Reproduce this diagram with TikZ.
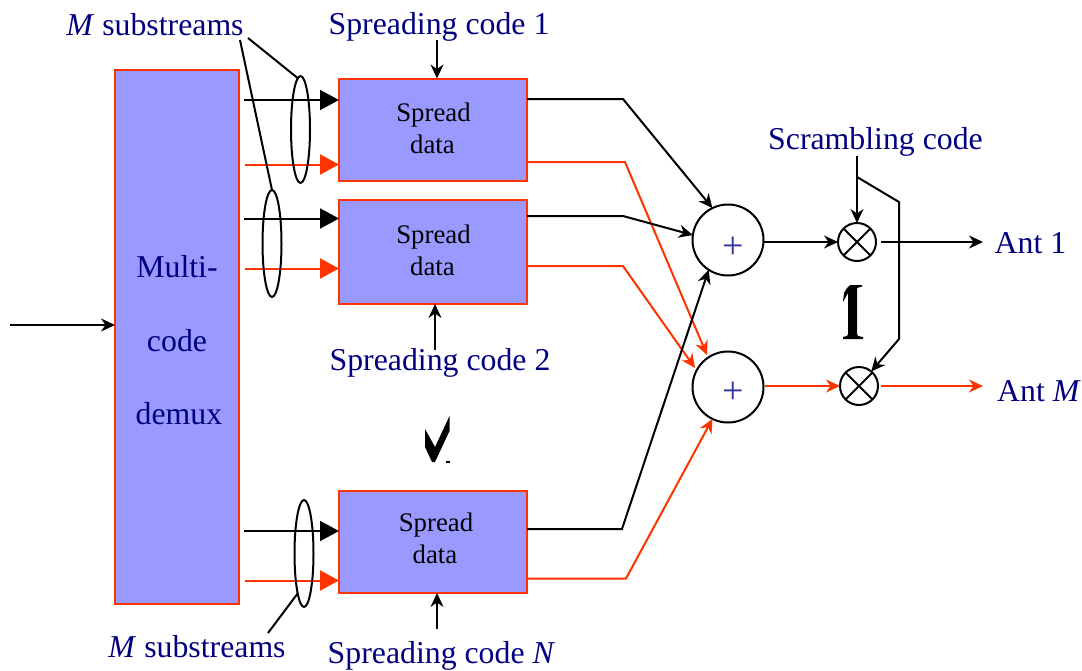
\documentclass[tikz,border=0pt]{standalone}
\usepackage{fontspec}
\setmainfont{Liberation Serif}
\usetikzlibrary{arrows.meta,shapes.geometric}
\definecolor{boxfill}{HTML}{9999FF}
\definecolor{oran}{HTML}{FF3300}
\definecolor{lab}{HTML}{000080}
\definecolor{plusc}{HTML}{333399}
\tikzset{
  x=1pt,y=-1pt,
  wire/.style={line width=2pt,line cap=butt,line join=miter},
  blk/.style={wire,draw=black},
  org/.style={wire,draw=oran},
  tip/.style={-{Stealth[length=14pt,width=13pt,inset=4.5pt]}},
  bigtip/.style={-{Triangle[length=19pt,width=20pt]}},
  blockbox/.style={draw=oran,fill=boxfill,line width=2pt,outer sep=0pt,inner sep=0pt},
  lbl/.style={text=lab,font=\fontsize{31.8pt}{32pt}\selectfont,anchor=base,inner sep=0pt},
  sprtxt/.style={text=black,font=\fontsize{26.8pt}{27pt}\selectfont,anchor=base,inner sep=0pt},
  oval/.style={draw=black,line width=2pt,ellipse,inner sep=0pt,outer sep=0pt,minimum width=19pt,minimum height=107pt},
  sumc/.style={circle,draw=black,line width=2pt,fill=white,inner sep=0pt,outer sep=0pt,minimum size=71pt},
  mulc/.style={circle,draw=black,line width=2pt,fill=white,inner sep=0pt,outer sep=0pt,minimum size=38pt},
  plustxt/.style={text=plusc,font=\fontsize{38pt}{38pt}\selectfont,inner sep=0pt,anchor=base},
}
\begin{document}
\begin{tikzpicture}
\useasboundingbox (0,0) rectangle (1082,670);
\fill[white] (0,0) rectangle (1082,670);
% blocks
\node[blockbox,minimum width=124pt,minimum height=534pt] (demux) at (177,337) {};
\node[blockbox,minimum width=188pt,minimum height=102pt] (s1) at (433,129.5) {};
\node[blockbox,minimum width=188pt,minimum height=104pt] (s2) at (433,252) {};
\node[blockbox,minimum width=188pt,minimum height=102pt] (sn) at (433,542) {};
\node[sumc] (sum1) at (728,240) {};
\node[sumc] (sum2) at (728,387) {};
\node[mulc] (mul1) at (857,242) {};
\node[mulc] (mul2) at (859,386) {};
% texts
\node[lbl] (t1) at (155,35) {\textit{M} substreams};
\node[lbl] (t2) at (197,657) {\textit{M} substreams};
\node[lbl] (c1) at (439,34.5) {Spreading code 1};
\node[lbl] (c2) at (440,370.5) {Spreading code 2};
\node[lbl] (cn) at (441.5,663.5) {Spreading code \textit{N}};
\node[lbl] (scr) at (875.5,149) {Scrambling code};
\node[lbl] (a1) at (1030.5,253) {Ant 1};
\node[lbl] (am) at (1039,401) {Ant \textit{M}};
\node[lbl] (d1) at (177,277) {Multi-};
\node[lbl] (d2) at (177,351) {code};
\node[lbl] (d3) at (179,424) {demux};
\node[sprtxt] (sp1) at (433.5,121) {Spread};
\node[sprtxt] (da1) at (432.5,153) {data};
\node[sprtxt] (sp2) at (433.5,243.5) {Spread};
\node[sprtxt] (da2) at (432.5,275) {data};
\node[sprtxt] (spn) at (436,531.5) {Spread};
\node[sprtxt] (dan) at (435,563.5) {data};
\node[plustxt] (p1) at (733,258) {+};
\node[plustxt] (p2) at (733,403) {+};
% cross in multipliers
\draw[blk] (mul1.45) -- (mul1.225) (mul1.135) -- (mul1.-45);
\draw[blk] (mul2.45) -- (mul2.225) (mul2.135) -- (mul2.-45);
% coordinates
\coordinate (i1) at (244,100);
\coordinate (i2) at (245,164.5);
\coordinate (i3) at (244,218.5);
\coordinate (i4) at (245,268.5);
\coordinate (i5) at (244,531);
\coordinate (i6) at (245,580.5);
\coordinate (in) at (10,325);
\coordinate (b1) at (623,99);
\coordinate (b2) at (625,162);
\coordinate (b3) at (623,216);
\coordinate (b4) at (623,266);
\coordinate (b5) at (622,529);
\coordinate (b6) at (626,578.5);
\coordinate (e2) at (707,355);
\coordinate (e4) at (695,368);
% inputs
\draw[blk,tip] (in) -- (demux.west |- in);
\draw[blk,bigtip] (i1) -- (s1.west |- i1);
\draw[org,bigtip] (i2) -- (s1.west |- i2);
\draw[blk,bigtip] (i3) -- (s2.west |- i3);
\draw[org,bigtip] (i4) -- (s2.west |- i4);
\draw[blk,bigtip] (i5) -- (sn.west |- i5);
\draw[org,bigtip] (i6) -- (sn.west |- i6);
% ovals
\node[oval] (o1) at (300.5,129.5) {};
\node[oval] (o2) at (272,243.5) {};
\node[oval] (o3) at (304,553.5) {};
\coordinate (l1a) at (248,38);
\coordinate (l2a) at (240,40);
\coordinate (l3b) at (268,633);
\draw[blk] (l1a) -- (o1.93);
\draw[blk] (l2a) -- (o2.north);
\draw[blk] (o3.-99) -- (l3b);
% outputs
\draw[blk,tip] (s1.east |- b1) -- (b1) -- (sum1.116);
\draw[org,tip] (s1.east |- b2) -- (b2) -- (e2);
\draw[blk,tip] (s2.east |- b3) -- (b3) -- (sum1.172);
\draw[org,tip] (s2.east |- b4) -- (b4) -- (e4);
\draw[blk,tip] (sn.east |- b5) -- (b5) -- (sum1.-123);
\draw[org,tip] (sn.east |- b6) -- (b6) -- (sum2.-116);
% codes
\coordinate (f1) at (437,40);
\coordinate (f2) at (435,350);
\coordinate (f3) at (437,629);
\draw[blk,tip] (f1) -- (s1.north -| f1);
\draw[blk,tip] (f2) -- (s2.south -| f2);
\draw[blk,tip] (f3) -- (sn.south -| f3);
% right side
\coordinate (m1o) at (881,242);
\coordinate (m2o) at (881,386);
\coordinate (e1) at (983,242);
\coordinate (e3) at (983,386);
\coordinate (q1) at (763,242);
\coordinate (q2) at (765,386);
\draw[blk,tip] (q1) -- (mul1.west);
\draw[org,tip] (q2) -- (mul2.west);
\draw[blk,tip] (m1o) -- (e1);
\draw[org,tip] (m2o) -- (e3);
\coordinate (sc0) at (857,156);
\coordinate (sc1) at (857,177);
\coordinate (sc2) at (899,202);
\coordinate (sc3) at (899,339);
\draw[blk,tip] (sc0) -- (mul1.north);
\draw[blk,tip] (sc1) -- (sc2) -- (sc3) -- (mul2.50);
% dots glyph shapes
\fill[black] (425,429) -- (425,447) -- (432,462) -- (435,462) -- (449.5,431) -- (449.5,416) -- (435,447) -- cycle;
\fill[black] (446,461) rectangle (450,462.5);
\fill[black] (850,285) -- (862,285) -- (862,286.5) -- (857,288) -- (857,334) -- (858,336) -- (863,337) -- (863,339) -- (843,339) -- (843,337) -- (847,336) -- (848,334) -- (848,293) -- (843,302) -- (844,293) -- (847,288) -- cycle;
\end{tikzpicture}
\end{document}
